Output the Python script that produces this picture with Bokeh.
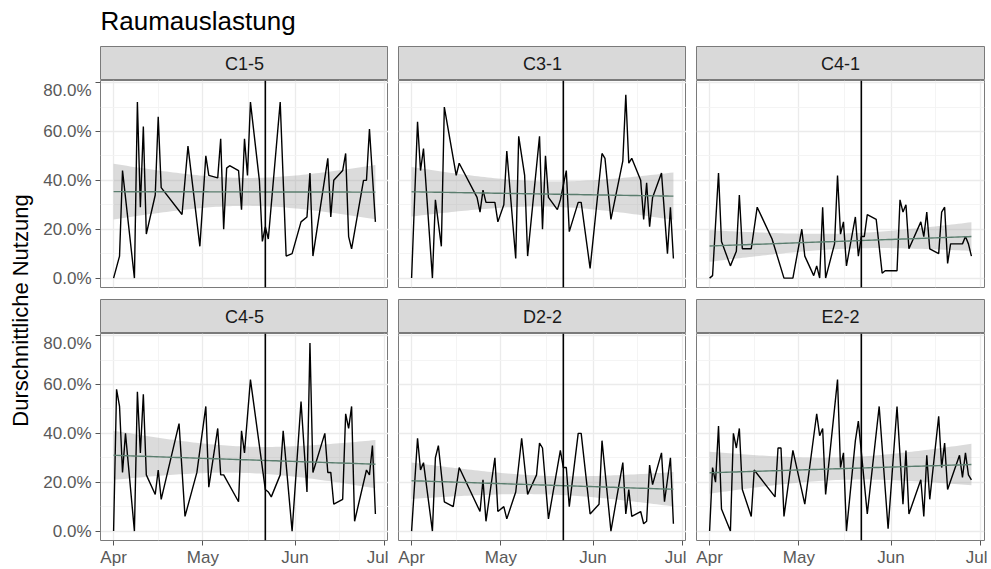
import numpy as np
import pandas as pd
from bokeh.plotting import figure
from bokeh.layouts import row, column
from bokeh.models import Range1d, FixedTicker, NumeralTickFormatter, Span, Label, Grid
from bokeh.embed import file_html
from bokeh.resources import INLINE
from bokeh.core.validation import silence
from bokeh.core.validation.warnings import MISSING_RENDERERS

silence(MISSING_RENDERERS, True)

# ---------------- data ----------------
title_text = "Raumauslastung"
y_label = "Durschnittliche Nutzung"
period_start = "2024-04-01"
event_date = "2024-05-22"
month_starts = ["2024-04-01", "2024-05-01", "2024-06-01", "2024-07-01"]
month_labels = ["Apr", "May", "Jun", "Jul"]
y_ticks = [0.0, 0.2, 0.4, 0.6, 0.8]
rooms = ["C1-5", "C3-1", "C4-1", "C4-5", "D2-2", "E2-2"]

# day offsets since period_start and average usage (share)
c15_day = [0, 2, 3, 7, 8, 9, 10, 11, 14, 15, 16, 23, 25, 29, 31, 32, 35, 36, 37, 38, 39,
           42, 43, 44, 45, 46, 49, 50, 51, 52, 56, 58, 60, 63, 65, 66, 67, 72, 73, 74, 77, 78,
           79, 80, 84, 85, 86, 88]
c15_use = [0.00, 0.09, 0.44, 0.00, 0.72, 0.29, 0.62, 0.18, 0.34, 0.66, 0.37, 0.26, 0.54,
           0.13, 0.50, 0.42, 0.41, 0.57, 0.20, 0.45, 0.46, 0.44, 0.28, 0.57, 0.42, 0.72, 0.40,
           0.15, 0.21, 0.16, 0.72, 0.09, 0.10, 0.23, 0.25, 0.43, 0.09, 0.49, 0.25, 0.40, 0.44,
           0.51, 0.17, 0.12, 0.40, 0.40, 0.61, 0.23]

c31_day = [0, 2, 3, 4, 7, 8, 10, 11, 15, 16, 22, 23, 24, 25, 28, 29, 31, 32, 35, 36, 38, 39,
           43, 44, 45, 46, 49, 50, 52, 53, 56, 57, 60, 64, 65, 67, 71, 72, 73, 74, 77, 78, 79,
           80, 81, 84, 86, 87, 88]
c31_use = [0.00, 0.64, 0.44, 0.53, 0.00, 0.32, 0.13, 0.70, 0.42, 0.47, 0.33, 0.27, 0.36, 0.31,
           0.31, 0.23, 0.30, 0.52, 0.08, 0.58, 0.42, 0.09, 0.58, 0.20, 0.50, 0.33, 0.28, 0.32,
           0.44, 0.19, 0.31, 0.31, 0.04, 0.51, 0.49, 0.24, 0.48, 0.75, 0.47, 0.49, 0.40, 0.24,
           0.39, 0.21, 0.33, 0.43, 0.10, 0.29, 0.08]

c41_day = [0, 1, 3, 4, 7, 9, 10, 11, 14, 16, 21, 22, 25, 28, 31, 32, 35, 36, 37, 38, 39, 42,
           43, 44, 45, 46, 49, 50, 51, 52, 53, 56, 58, 59, 60, 63, 64, 65, 66, 67, 71, 72, 73,
           74, 77, 78, 79, 80, 81, 85, 86, 87, 88]
c41_use = [0.00, 0.01, 0.43, 0.15, 0.05, 0.11, 0.34, 0.12, 0.12, 0.29, 0.16, 0.12, 0.00, 0.00,
           0.20, 0.09, 0.01, 0.05, 0.00, 0.29, 0.00, 0.14, 0.42, 0.18, 0.23, 0.05, 0.25, 0.09,
           0.17, 0.17, 0.26, 0.24, 0.02, 0.03, 0.03, 0.03, 0.32, 0.27, 0.30, 0.12, 0.23, 0.17,
           0.27, 0.12, 0.10, 0.27, 0.29, 0.06, 0.14, 0.14, 0.17, 0.14, 0.09]

c45_day = [0, 1, 2, 3, 4, 7, 8, 9, 10, 11, 14, 15, 16, 22, 24, 28, 31, 32, 35, 36, 37, 42, 43,
           44, 46, 51, 52, 53, 56, 57, 60, 63, 65, 66, 67, 71, 72, 73, 74, 77, 78, 79, 80, 81,
           85, 86, 87, 88]
c45_use = [0.00, 0.58, 0.51, 0.24, 0.40, 0.00, 0.57, 0.32, 0.56, 0.23, 0.15, 0.25, 0.13, 0.44,
           0.06, 0.24, 0.51, 0.18, 0.42, 0.23, 0.23, 0.12, 0.41, 0.32, 0.62, 0.17, 0.16, 0.14,
           0.23, 0.41, 0.00, 0.53, 0.16, 0.77, 0.24, 0.40, 0.24, 0.24, 0.11, 0.13, 0.48, 0.42,
           0.51, 0.04, 0.25, 0.23, 0.35, 0.07]

d22_day = [0, 2, 3, 4, 7, 8, 9, 11, 14, 16, 23, 24, 25, 28, 29, 31, 32, 35, 37, 39, 42, 43, 44,
           46, 50, 51, 52, 53, 56, 57, 60, 63, 64, 67, 71, 72, 73, 74, 77, 78, 79, 80, 81, 84,
           85, 87, 88]
d22_use = [0.00, 0.38, 0.25, 0.28, 0.00, 0.30, 0.35, 0.12, 0.10, 0.26, 0.08, 0.21, 0.04, 0.30,
           0.08, 0.10, 0.05, 0.16, 0.38, 0.15, 0.23, 0.36, 0.34, 0.05, 0.33, 0.26, 0.26, 0.10,
           0.40, 0.40, 0.07, 0.11, 0.37, 0.00, 0.28, 0.07, 0.17, 0.06, 0.08, 0.03, 0.04, 0.27,
           0.19, 0.32, 0.12, 0.30, 0.03]

e22_day = [0, 1, 2, 3, 4, 7, 8, 9, 10, 11, 14, 15, 22, 23, 24, 25, 28, 32, 36, 37, 38, 39, 43,
           44, 45, 46, 49, 50, 53, 57, 60, 63, 65, 66, 67, 71, 72, 73, 74, 77, 78, 79, 80, 84,
           85, 86, 87, 88]
e22_use = [0.00, 0.26, 0.20, 0.43, 0.09, 0.00, 0.40, 0.34, 0.42, 0.17, 0.06, 0.25, 0.14, 0.34,
           0.34, 0.06, 0.33, 0.11, 0.48, 0.39, 0.42, 0.15, 0.62, 0.26, 0.32, 0.00, 0.37, 0.45,
           0.07, 0.51, 0.01, 0.51, 0.11, 0.33, 0.07, 0.21, 0.06, 0.31, 0.13, 0.47, 0.26, 0.36,
           0.17, 0.31, 0.22, 0.32, 0.23, 0.21]

series_days = [c15_day, c31_day, c41_day, c45_day, d22_day, e22_day]
series_use = [c15_use, c31_use, c41_use, c45_use, d22_use, e22_use]

# ---------------- derived scales (ggplot-like 5% expansion) ----------------
start = pd.Timestamp(period_start)
x_ticks = [int((pd.Timestamp(m) - start).days) for m in month_starts]
x_minor = [(a + b) / 2 for a, b in zip(x_ticks[:-1], x_ticks[1:])]
y_minor = [(a + b) / 2 for a, b in zip(y_ticks[:-1], y_ticks[1:])]
event_day = int((pd.Timestamp(event_date) - start).days)

all_d = np.concatenate([np.asarray(d, float) for d in series_days])
all_v = np.concatenate([np.asarray(v, float) for v in series_use])
xs_span = all_d.max() - all_d.min()
ys_span = all_v.max() - all_v.min()
x_lo, x_hi = all_d.min() - 0.05 * xs_span, all_d.max() + 0.05 * xs_span
y_lo, y_hi = all_v.min() - 0.05 * ys_span, all_v.max() + 0.05 * ys_span


def lm_band(d, v, n=80):
    x = np.asarray(d, float)
    y = np.asarray(v, float)
    b1, b0 = np.polyfit(x, y, 1)
    xs = np.linspace(x.min(), x.max(), n)
    fit = b0 + b1 * xs
    resid = y - (b0 + b1 * x)
    dof = len(x) - 2
    s = np.sqrt((resid ** 2).sum() / dof)
    sxx = ((x - x.mean()) ** 2).sum()
    se = s * np.sqrt(1.0 / len(x) + (xs - x.mean()) ** 2 / sxx)
    z = 1.959964
    t = z + (z ** 3 + z) / (4 * dof) + (5 * z ** 5 + 16 * z ** 3 + 3 * z) / (96 * dof ** 2)
    return xs, fit, fit - t * se, fit + t * se


FONT = "Liberation Sans"
FRAME_W = 288
FRAME_H = 207
STRIP_H = 34
TITLE_H = 46
YLAB_W = 40
BORDER_L = [60, 10, 10]
BORDER_R = [0, 0, 3]
TOP_GAP = 12
X_AXIS_H = 27
PANEL_OUT = "#7a7a7a"
TICK_FS = "17px"


def make_strip(name, col):
    s = figure(frame_width=FRAME_W, frame_height=STRIP_H, x_range=Range1d(0, 1), y_range=Range1d(0, 1),
               output_backend="svg", toolbar_location=None, x_axis_location=None, y_axis_location=None,
               min_border_left=BORDER_L[col], min_border_right=BORDER_R[col],
               min_border_top=0, min_border_bottom=0)
    s.grid.visible = False
    s.background_fill_color = "#d9d9d9"
    s.border_fill_color = "white"
    s.outline_line_color = PANEL_OUT
    s.outline_line_width = 1
    s.add_layout(Label(x=0.5, y=0.5, text=name, text_align="center", text_baseline="middle",
                       text_font_size="18px", text_color="#1a1a1a", text_font=FONT))
    return s


def style_axis(ax, standoff):
    ax.axis_line_color = None
    ax.major_tick_line_color = "#555555"
    ax.major_tick_out = 5
    ax.major_tick_in = 0
    ax.minor_tick_line_color = None
    ax.major_label_standoff = standoff
    ax.major_label_text_font = FONT
    ax.major_label_text_font_size = TICK_FS
    ax.major_label_text_color = "#595959"


def make_panel(i, col, bottom):
    days, use = series_days[i], series_use[i]
    p = figure(frame_width=FRAME_W, frame_height=FRAME_H,
               x_range=Range1d(x_lo, x_hi), y_range=Range1d(y_lo, y_hi),
               output_backend="svg", toolbar_location=None,
               x_axis_location="below" if bottom else None,
               y_axis_location="left" if col == 0 else None,
               min_border_left=BORDER_L[col], min_border_right=BORDER_R[col],
               min_border_top=0, min_border_bottom=X_AXIS_H if bottom else TOP_GAP)
    p.center = [c for c in p.center if not isinstance(c, Grid)]
    p.add_layout(Grid(dimension=0, ticker=FixedTicker(ticks=x_ticks, minor_ticks=x_minor),
                      grid_line_color="#ebebeb", grid_line_width=1.3,
                      minor_grid_line_color="#f3f3f3", minor_grid_line_width=0.9))
    p.add_layout(Grid(dimension=1, ticker=FixedTicker(ticks=y_ticks, minor_ticks=y_minor),
                      grid_line_color="#ebebeb", grid_line_width=1.3,
                      minor_grid_line_color="#f3f3f3", minor_grid_line_width=0.9))
    p.background_fill_color = "white"
    p.border_fill_color = "white"
    p.outline_line_color = PANEL_OUT
    p.outline_line_width = 1

    xs, fit, lo, hi = lm_band(days, use)
    p.varea(x=xs, y1=lo, y2=hi, fill_color="#999999", fill_alpha=0.35)
    p.line(days, use, line_color="black", line_width=1.4)
    p.line(xs, fit, line_color="#5a7d6e", line_width=1.4)
    p.add_layout(Span(location=event_day, dimension="height", line_color="black", line_width=1.6))

    if col == 0:
        ax = p.yaxis[0]
        ax.ticker = FixedTicker(ticks=y_ticks)
        ax.formatter = NumeralTickFormatter(format="0.0%")
        style_axis(ax, 4)
    if bottom:
        ax = p.xaxis[0]
        ax.ticker = FixedTicker(ticks=x_ticks)
        ax.major_label_overrides = {t: lab for t, lab in zip(x_ticks, month_labels)}
        style_axis(ax, 2)
    return p


strips = [make_strip(rooms[i], i % 3) for i in range(6)]
panels = [make_panel(i, i % 3, i >= 3) for i in range(6)]

total_w = sum(BORDER_L) + sum(BORDER_R) + 3 * FRAME_W

tf = figure(width=total_w, height=TITLE_H, output_backend="svg", toolbar_location=None,
            x_axis_location=None, y_axis_location=None,
            min_border_left=BORDER_L[0], min_border_right=0, min_border_top=36, min_border_bottom=0)
tf.grid.visible = False
tf.outline_line_color = None
tf.title.text = title_text
tf.title.align = "left"
tf.title.offset = 0
tf.title.standoff = 2
tf.title.text_font = FONT
tf.title.text_font_size = "26px"
tf.title.text_font_style = "normal"
tf.title.text_color = "#000000"

grid_col = column(tf, row(strips[0:3]), row(panels[0:3]), row(strips[3:6]), row(panels[3:6]))

col_h = TITLE_H + STRIP_H + (FRAME_H + TOP_GAP) + STRIP_H + (FRAME_H + X_AXIS_H)
yf = figure(width=YLAB_W, height=col_h, output_backend="svg", toolbar_location=None,
            x_axis_location=None, y_axis_location=None, title_location="left",
            min_border_left=32, min_border_right=0,
            min_border_top=TITLE_H + STRIP_H, min_border_bottom=X_AXIS_H)
yf.grid.visible = False
yf.outline_line_color = None
yf.title.text = y_label
yf.title.align = "center"
yf.title.standoff = 0
yf.title.offset = 0
yf.title.text_font = FONT
yf.title.text_font_size = "22px"
yf.title.text_font_style = "normal"
yf.title.text_color = "#000000"

layout = row(yf, grid_col)

open("out.html", "w").write(file_html(layout, INLINE))
